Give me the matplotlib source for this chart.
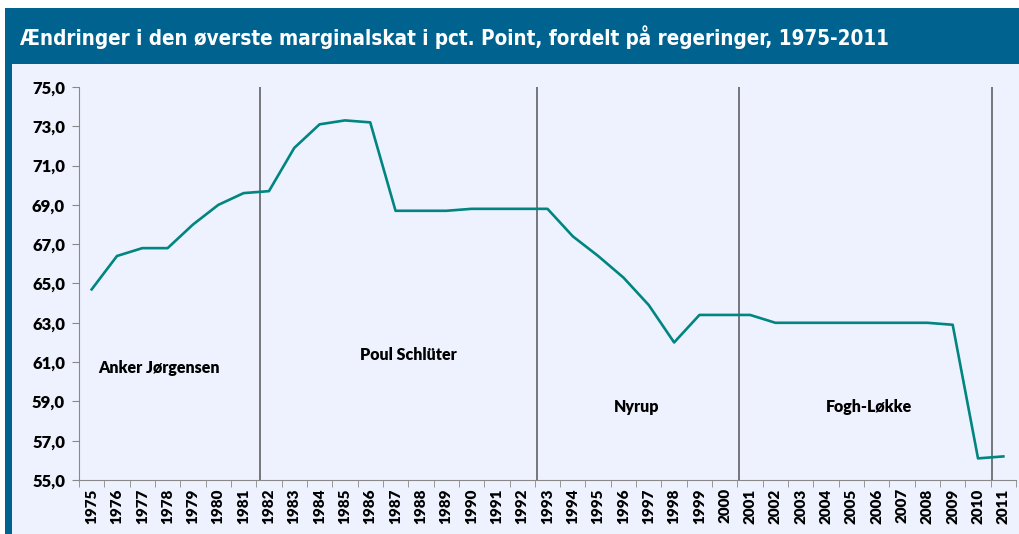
import numpy as np
import matplotlib.pyplot as plt
from matplotlib.patches import Rectangle

# data
years = [str(y) for y in range(1975, 2012)]
skat = [64.7, 66.4, 66.8, 66.8, 68.0, 69.0, 69.6, 69.7, 71.9, 73.1, 73.3, 73.2,
        68.7, 68.7, 68.7, 68.8, 68.8, 68.8, 68.8, 67.4, 66.4, 65.3, 63.9, 62.0,
        63.4, 63.4, 63.4, 63.0, 63.0, 63.0, 63.0, 63.0, 63.0, 63.0, 62.9, 56.1, 56.2]
# regeringsskift (position paa kategoriaksen)
skift = [6.65, 17.6, 25.55, 35.57]
regeringer = ['Anker Jørgensen', 'Poul Schlüter', 'Nyrup', 'Fogh-Løkke']
reg_x = [2.65, 12.5, 21.5, 30.7]
reg_y = [60.7, 61.35, 58.7, 58.7]

W, H = 1019, 534
bar_col = '#00628f'
bg_col = '#eef2fe'
line_col = '#008580'
fnt = ['Lato', 'DejaVu Sans']

fig = plt.figure(figsize=(W/100, H/100), dpi=100)
fig.patch.set_facecolor('white')
fig.patches.append(Rectangle((5/W, 0), 1, (H-8)/H, transform=fig.transFigure,
                             facecolor=bar_col, edgecolor='none', zorder=-2))
fig.patches.append(Rectangle((12/W, 0), 1, (H-64)/H, transform=fig.transFigure,
                             facecolor=bg_col, edgecolor='none', zorder=-1))
fig.text(20/W, 1-37/H, 'Ændringer i den øverste marginalskat i pct. Point, fordelt på regeringer, 1975-2011',
         color='white', fontsize=14.8, fontweight='bold', va='center', ha='left',
         fontstretch='condensed', family=['DejaVu Sans'])

ax = fig.add_axes([79/W, 1-480/H, (1016-79)/W, (480-87)/H])
ax.set_zorder(1)
ax.set_facecolor('none')
x = np.arange(len(years))
ax.plot(x, skat, color=line_col, lw=1.9, zorder=3)
for s in skift:
    ax.axvline(s, color='#555555', lw=1.1, zorder=2)
for name, tx, ty in zip(regeringer, reg_x, reg_y):
    ax.text(tx, ty, name, ha='center', va='center', fontsize=11.5, fontweight='heavy',
            family=fnt)

ax.set_xlim(-0.5, len(years) - 0.5)
ax.set_ylim(55, 75)
ax.set_yticks(np.arange(55, 76, 2))
ax.set_yticklabels([f'{v:.1f}'.replace('.', ',') for v in np.arange(55, 76, 2)])
ax.set_xticks(x)
ax.set_xticklabels(years, rotation=90)
ax.set_xticks(np.arange(-0.5, len(years)), minor=True)
ax.tick_params(axis='x', which='major', length=0, pad=6)
ax.tick_params(axis='x', which='minor', length=5, color='#888888', direction='out')
ax.tick_params(axis='y', length=5, color='#888888', direction='out', pad=5)
for lab in ax.get_yticklabels():
    lab.set_fontweight('heavy')
    lab.set_fontsize(12)
    lab.set_family(fnt)
for lab in ax.get_xticklabels():
    lab.set_fontweight('heavy')
    lab.set_fontsize(11)
    lab.set_family(fnt)
for sp in ['top', 'right']:
    ax.spines[sp].set_visible(False)
for sp in ['left', 'bottom']:
    ax.spines[sp].set_color('#888888')

fig.savefig('out.png', dpi=100)
